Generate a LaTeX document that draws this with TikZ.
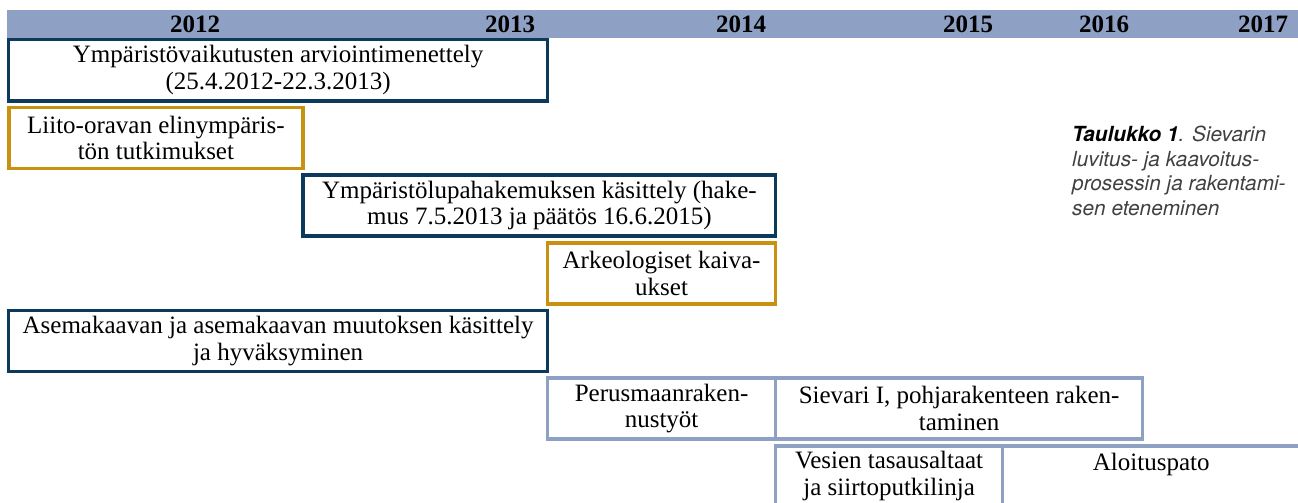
\documentclass[tikz,border=0pt]{standalone}
\usepackage{fontspec}
\setmainfont{Liberation Serif}
\newfontfamily\captfont{TeX Gyre Heros}
\usepackage{xcolor}
\definecolor{navyline}{RGB}{12,58,92}
\definecolor{goldline}{RGB}{200,145,15}
\definecolor{steelblue}{RGB}{142,160,196}
\tikzstyle{phase} = [rectangle, draw, line width=3.5pt, minimum height=61pt, inner sep=0pt, align=center, font=\fontsize{25}{26.6}\selectfont]
\tikzstyle{navybox} = [phase, draw=navyline]
\tikzstyle{goldbox} = [phase, draw=goldline]
\tikzstyle{buildbox} = [phase, draw=steelblue]
\tikzstyle{year} = [anchor=base, inner sep=0pt, font=\bfseries\fontsize{25}{28}\selectfont]
\tikzstyle{caption} = [anchor=north west, inner sep=0pt, align=left, font=\captfont\itshape\fontsize{20.8}{24.8}\selectfont]

\begin{document}
\begin{tikzpicture}[x=1pt, y=-1pt]
	\useasboundingbox (0,0) rectangle (1298,503);
	\clip (0,0) rectangle (1298,503);
	%years
	\node (bar) [fill=steelblue, minimum width=1291pt, minimum height=28pt, inner sep=0pt] at (652.5,24) {};
	\node (y2012) [year] at (195,33) {2012};
	\node (y2013) [year] at (510,33) {2013};
	\node (y2014) [year] at (741,33) {2014};
	\node (y2015) [year] at (968,33) {2015};
	\node (y2016) [year] at (1104,33) {2016};
	\node (y2017) [year] at (1263,33) {2017};
	%phases
	\node (yva) [navybox, minimum width=538.75pt] at (278.1,70.25) {Ympäristövaikutusten arviointimenettely\\(25.4.2012-22.3.2013)};
	\node (liito) [goldbox, minimum width=294.25pt] at (155.9,137.9) {Liito-oravan elinympäris-\\tön tutkimukset};
	\node (lupa) [navybox, minimum width=472.7pt] at (539.35,205.6) {Ympäristölupahakemuksen käsittely (hake-\\mus 7.5.2013 ja päätös 16.6.2015)};
	\node (arkeo) [goldbox, minimum width=228.2pt] at (661.6,273.25) {Arkeologiset kaiva-\\ukset};
	\node (kaava) [navybox, minimum width=538.75pt] at (278.1,340.9) {Asemakaavan ja asemakaavan muutoksen käsittely\\ja hyväksyminen};
	%building
	\node (perus) [buildbox, minimum width=228.2pt] at (661.6,408.6) {Perusmaanraken-\\nustyöt};
	\node (pohja) [buildbox, minimum width=366.8pt] at (959.1,408.6) {Sievari I, pohjarakenteen raken-\\taminen};
	\node (vesi) [buildbox, minimum width=226.8pt] at (889.1,476.25) {Vesien tasausaltaat\\ja siirtoputkilinja};
	\node (pato) [buildbox, minimum width=297.5pt, text depth=29pt] at (1151.25,476.25) {Aloituspato};
	%caption
	\node (capt) [caption] at (1072,125.5) {{\bfseries Taulukko 1}\textcolor{black!75}{. Sievarin}\\\textcolor{black!75}{luvitus- ja kaavoitus-}\\\textcolor{black!75}{prosessin ja rakentami-}\\\textcolor{black!75}{sen eteneminen}};
\end{tikzpicture}
\end{document}
